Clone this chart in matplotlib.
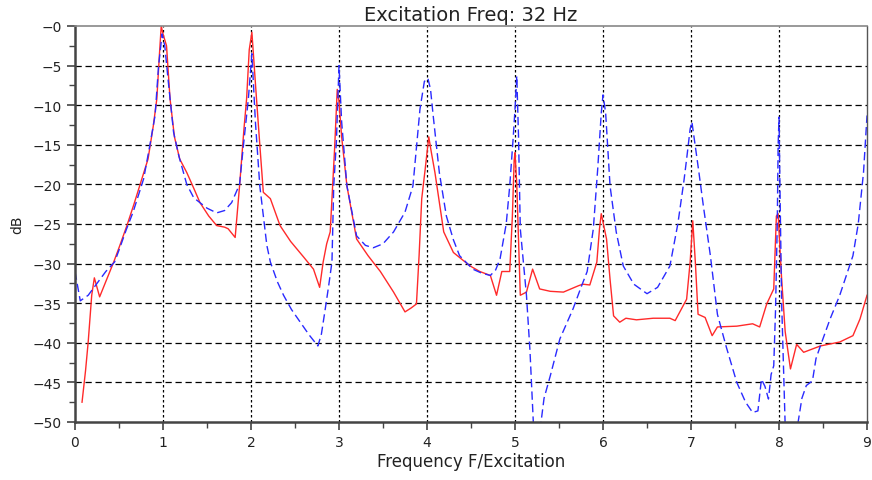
import numpy as np
import matplotlib
matplotlib.use("Agg")
import matplotlib.pyplot as plt
from matplotlib.ticker import MultipleLocator, FixedLocator

# Blue dashed response
blue_x = [0.00, 0.06, 0.15, 0.25, 0.35, 0.45, 0.51, 0.58, 0.66, 0.78, 0.85, 0.91, 0.95, 0.99,
          1.02, 1.06, 1.12, 1.18, 1.27, 1.35, 1.42, 1.50, 1.61, 1.70, 1.78, 1.87, 1.91, 1.97,
          2.01, 2.05, 2.10, 2.18, 2.22, 2.30, 2.37, 2.46, 2.56, 2.66, 2.76, 2.80, 2.84, 2.88,
          2.92, 2.94, 2.97, 2.99, 3.00, 3.03, 3.09, 3.20, 3.30, 3.39, 3.50, 3.62, 3.75, 3.84,
          3.92, 3.97, 4.01, 4.04, 4.07, 4.14, 4.22, 4.30, 4.37, 4.52, 4.62, 4.72, 4.78, 4.83,
          4.90, 4.94, 4.98, 5.00, 5.02, 5.04, 5.06, 5.13, 5.17, 5.21, 5.29, 5.33, 5.40, 5.51,
          5.66, 5.75, 5.82, 5.89, 5.94, 5.98, 6.00, 6.03, 6.08, 6.15, 6.23, 6.35, 6.50, 6.62,
          6.76, 6.85, 6.92, 6.95, 6.99, 7.01, 7.04, 7.09, 7.14, 7.22, 7.30, 7.40, 7.52, 7.62,
          7.70, 7.76, 7.80, 7.84, 7.88, 7.91, 7.94, 7.96, 7.98, 7.99, 8.00, 8.01, 8.03, 8.06,
          8.07, 8.21, 8.26, 8.31, 8.38, 8.42, 8.47, 8.58, 8.69, 8.78, 8.84, 8.90, 8.96, 9.00]
blue_db = [-31.0, -34.7, -34.0, -32.5, -31.0, -29.8, -28.0, -25.8, -23.5, -19.3, -15.1, -11.3, -5.0, -1.0,
           -2.5, -7.0, -13.4, -16.4, -20.0, -21.7, -22.3, -23.0, -23.6, -23.3, -22.3, -20.0, -15.5, -9.2,
           -3.5, -12.1, -20.2, -27.7, -29.8, -32.3, -34.0, -35.8, -37.4, -39.0, -40.4, -38.9, -36.0, -33.0,
           -29.8, -20.2, -14.7, -8.4, -5.0, -12.1, -20.2, -26.5, -27.7, -28.0, -27.5, -26.0, -23.5, -20.2,
           -10.5, -7.0, -6.6, -8.0, -11.3, -18.5, -24.0, -27.0, -29.0, -30.7, -31.2, -31.5, -30.8, -29.4,
           -25.0, -20.2, -14.0, -10.5, -6.3, -14.0, -25.6, -34.0, -41.0, -50.5, -50.5, -47.0, -44.2, -39.5,
           -35.7, -33.0, -31.0, -25.6, -18.0, -11.0, -8.7, -11.0, -20.2, -26.0, -30.3, -32.6, -33.8, -33.0,
           -30.3, -25.0, -19.5, -16.8, -13.0, -12.1, -14.5, -18.5, -22.7, -29.0, -36.4, -40.5, -45.0, -47.5,
           -48.8, -48.6, -44.6, -45.5, -47.1, -44.0, -42.9, -36.0, -25.0, -15.0, -11.5, -20.0, -35.0, -47.0,
           -50.5, -50.5, -47.0, -45.4, -44.8, -42.0, -40.4, -37.0, -34.0, -31.0, -29.0, -25.0, -18.5, -11.3]

# Red solid response
red_x = [0.08, 0.12, 0.15, 0.19, 0.22, 0.28, 0.36, 0.44, 0.51, 0.59, 0.67, 0.74, 0.83, 0.89, 0.93,
         0.96, 0.98, 1.00, 1.04, 1.08, 1.13, 1.19, 1.27, 1.35, 1.42, 1.52, 1.61, 1.70, 1.74, 1.82,
         1.87, 1.92, 1.95, 1.98, 2.01, 2.03, 2.06, 2.10, 2.14, 2.22, 2.33, 2.45, 2.60, 2.71, 2.78,
         2.82, 2.86, 2.90, 2.95, 2.98, 3.00, 3.03, 3.09, 3.20, 3.33, 3.47, 3.62, 3.75, 3.82, 3.88,
         3.91, 3.94, 3.98, 4.02, 4.05, 4.09, 4.19, 4.30, 4.40, 4.49, 4.60, 4.72, 4.79, 4.85, 4.94,
         4.97, 4.99, 5.00, 5.02, 5.06, 5.13, 5.20, 5.28, 5.40, 5.55, 5.72, 5.77, 5.85, 5.93, 5.96,
         5.98, 6.04, 6.08, 6.12, 6.19, 6.26, 6.38, 6.57, 6.76, 6.82, 6.95, 6.99, 7.02, 7.05, 7.08,
         7.16, 7.24, 7.30, 7.52, 7.70, 7.78, 7.86, 7.94, 7.97, 7.99, 8.01, 8.03, 8.07, 8.13, 8.20,
         8.28, 8.47, 8.69, 8.84, 8.92, 9.00]
red_db = [-47.5, -43.5, -39.9, -34.0, -31.8, -34.2, -32.0, -29.8, -27.7, -25.2, -22.5, -20.0, -16.8, -12.6, -9.2,
          -3.5, 0.0, -1.0, -2.5, -9.2, -14.0, -16.8, -18.5, -20.5, -22.3, -24.0, -25.2, -25.4, -25.6, -26.7,
          -20.2, -13.0, -9.2, -3.0, -0.8, -4.0, -8.8, -15.0, -21.0, -21.8, -25.2, -27.2, -29.2, -30.7, -33.0,
          -29.8, -27.5, -26.0, -15.5, -8.0, -9.5, -14.0, -20.2, -26.9, -29.0, -31.0, -33.6, -36.1, -35.6, -35.1,
          -29.0, -21.8, -18.0, -14.0, -16.0, -18.5, -26.0, -28.6, -29.5, -30.3, -31.0, -31.5, -34.0, -31.0, -31.0,
          -24.0, -17.0, -16.0, -20.0, -34.0, -33.6, -30.7, -33.2, -33.5, -33.6, -32.8, -32.6, -32.7, -29.8, -25.6,
          -23.7, -26.9, -32.0, -36.6, -37.4, -36.9, -37.1, -36.9, -36.9, -37.2, -34.5, -29.8, -24.6, -30.0, -36.4,
          -36.8, -39.1, -38.0, -37.9, -37.6, -38.0, -35.1, -33.2, -24.0, -23.7, -28.0, -32.0, -38.6, -43.3, -40.2,
          -41.2, -40.4, -39.9, -39.1, -37.0, -34.0]

y_ticks = [0, -5, -10, -15, -20, -25, -30, -35, -40, -45, -50]
x_ticks = list(range(10))

fig = plt.figure(figsize=(8.72, 4.81), dpi=100)
ax = fig.add_axes([0.086, 0.1206, 0.9083, 0.8233])

ax.plot(red_x, red_db, color="#ff2a2a", lw=1.0)
ax.plot(blue_x, blue_db, color="#2a2aff", lw=1.0, dashes=(6, 3))

ax.set_xlim(0, 9)
ax.set_ylim(-50, 0)

# grid: dashed horizontal, dotted vertical
for v in y_ticks[1:-1]:
    ax.axhline(v, color="black", lw=0.9, dashes=(5, 3), zorder=0)
for v in x_ticks[1:-1]:
    ax.axvline(v, color="black", lw=0.9, dashes=(2, 2), zorder=0)

ax.xaxis.set_major_locator(FixedLocator(x_ticks))
ax.xaxis.set_minor_locator(MultipleLocator(0.5))
ax.yaxis.set_major_locator(FixedLocator(y_ticks))
ax.yaxis.set_minor_locator(MultipleLocator(2.5))
ax.set_yticklabels(["\u2212%d" % abs(v) for v in y_ticks])
ax.tick_params(which="major", direction="out", length=6, width=1.2, color="#444444",
               labelsize=10, labelcolor="#222222")
ax.tick_params(which="minor", direction="out", length=4, width=1.0, color="#444444")

for side in ["left", "bottom"]:
    ax.spines[side].set_color("#444444")
    ax.spines[side].set_linewidth(1.8)
ax.spines["top"].set_color("#888888")
ax.spines["top"].set_linewidth(1.2)
ax.spines["right"].set_color("#555555")
ax.spines["right"].set_linewidth(1.0)

ax.set_title("Excitation Freq: 32 Hz", fontsize=14, color="#222222", pad=4)
ax.set_xlabel("Frequency F/Excitation", fontsize=12, color="#222222", labelpad=2)
ax.set_ylabel("dB", fontsize=10, color="#222222", labelpad=6)

fig.savefig("out.png", dpi=100)
